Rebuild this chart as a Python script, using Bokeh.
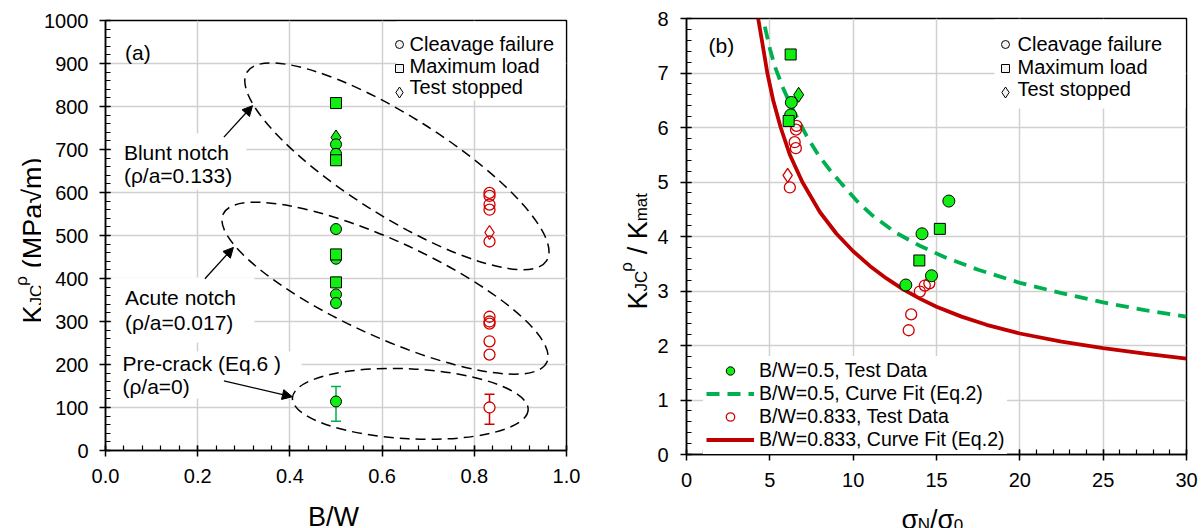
import math
from bokeh.plotting import figure
from bokeh.layouts import row, column
from bokeh.models import (Label, Arrow, NormalHead, SingleIntervalTicker, PrintfTickFormatter,
                          Range1d, Legend, LegendItem)
from bokeh.embed import file_html
from bokeh.resources import INLINE

FONT = "Liberation Sans"

# ------------------------- DATA: panel (a) -------------------------
bw_05 = 0.5
bw_083 = 0.833
a05_cleavage = [712, 690, 515, 446, 363, 343]
a05_maxload = [808, 675, 456, 391]
a05_stopped = [728]
a05_precrack = [114]
a05_precrack_lo = [68]
a05_precrack_hi = [149]
a083_cleavage = [599, 592, 572, 560, 486, 311, 300, 295, 254, 223]
a083_stopped = [507]
a083_precrack = [100]
a083_precrack_lo = [61]
a083_precrack_hi = [131]

# ------------------------- DATA: panel (b) -------------------------
b05_cleav_x = [6.29, 6.25, 15.74, 14.13, 14.70, 13.16]
b05_cleav_y = [6.46, 6.23, 4.65, 4.05, 3.28, 3.11]
b05_max_x = [6.25, 6.13, 15.20, 13.97]
b05_max_y = [7.34, 6.12, 4.14, 3.56]
b05_stop_x = [6.73]
b05_stop_y = [6.60]
b083_cleav_x = [6.60, 6.57, 6.49, 6.56, 6.20, 14.00, 14.30, 14.57, 13.48, 13.33]
b083_cleav_y = [6.03, 5.96, 5.73, 5.62, 4.90, 2.99, 3.10, 3.14, 2.57, 2.28]
b083_stop_x = [6.07]
b083_stop_y = [5.12]
fit05_x = [4.7, 5.0, 5.3, 5.8, 6.3, 7.2, 7.9, 8.6, 9.3, 10.2, 11.1, 12.5, 14.0, 15.5, 17.5, 20.0, 22.5, 25.0, 27.5, 30.0]
fit05_y = [7.85, 7.45, 7.12, 6.72, 6.38, 5.85, 5.50, 5.22, 4.97, 4.66, 4.40, 4.08, 3.83, 3.62, 3.39, 3.15, 2.96, 2.79, 2.65, 2.53]
fit083_x = [4.3, 4.55, 4.85, 5.2, 5.65, 6.2, 6.95, 8.0, 9.0, 10.0, 11.0, 12.0, 13.0, 14.0, 15.0, 16.5, 18.0, 20.0, 22.5, 25.0, 27.5, 30.0]
fit083_y = [8.0, 7.55, 7.0, 6.5, 6.0, 5.5, 5.0, 4.45, 4.05, 3.73, 3.46, 3.23, 3.03, 2.86, 2.71, 2.53, 2.38, 2.22, 2.07, 1.95, 1.85, 1.76]

GREEN = "#11ee11"
GREEN_LINE = "#00b050"
RED = "#d00000"
RED_LINE = "#c00000"
LEG_FILL = "#f2f2f2"

# Arial / Liberation Sans advance widths (em)
WID = {'K': .667, 'J': .5, 'C': .722, 'ρ': .58, ' ': .278, '(': .333, ')': .333, 'M': .833,
       'P': .667, 'a': .556, '√': .549, 'm': .833, '/': .278, 't': .278, 'N': .722,
       'σ': .6, '0': .556, 'B': .667, 'W': .944}


def tw(s, size):
    return sum(WID.get(c, .556) for c in s) * size


def no_align(f):
    if "frame_align" in f.properties():
        f.frame_align = False


def make_fig(fw, fh, bl, br, bt, bb, xr, yr, xint, yint, xfmt, yfmt, ystand):
    p = figure(frame_width=fw, frame_height=fh, min_border_left=bl, min_border_right=br,
               min_border_top=bt, min_border_bottom=bb, x_range=Range1d(*xr), y_range=Range1d(*yr),
               title_location=None, toolbar_location=None, output_backend="svg")
    no_align(p)
    p.outline_line_color = "black"
    p.outline_line_width = 1.5
    p.xaxis.ticker = SingleIntervalTicker(interval=xint, num_minor_ticks=5)
    p.yaxis.ticker = SingleIntervalTicker(interval=yint, num_minor_ticks=5)
    p.xaxis.formatter = PrintfTickFormatter(format=xfmt)
    p.yaxis.formatter = PrintfTickFormatter(format=yfmt)
    for ax in (p.xaxis[0], p.yaxis[0]):
        ax.axis_label = None
        ax.axis_label_standoff = 0
        ax.axis_line_color = "black"
        ax.axis_line_width = 1.5
        ax.major_tick_line_color = "black"
        ax.major_tick_line_width = 1.5
        ax.major_tick_in = 5
        ax.major_tick_out = 6
        ax.minor_tick_line_color = "black"
        ax.minor_tick_line_width = 1.2
        ax.minor_tick_in = 5
        ax.minor_tick_out = 0
        ax.major_label_text_font = FONT
        ax.major_label_text_font_size = "20px"
        ax.major_label_text_color = "black"
        ax.major_label_standoff = 12
    p.yaxis[0].major_label_standoff = ystand
    p.grid.grid_line_color = "#d0d0d0"
    p.grid.grid_line_width = 1.5
    return p


def text_fig(left, top, w, h, bl=0, br=0):
    """A bare canvas whose data coordinates are page pixels (y measured downward)."""
    f = figure(frame_width=w - bl - br, frame_height=h, min_border_left=bl, min_border_right=br,
               min_border_top=0, min_border_bottom=0,
               x_range=Range1d(left + bl, left + w - br), y_range=Range1d(top + h, top),
               x_axis_location=None, y_axis_location=None, title_location=None,
               toolbar_location=None, output_backend="svg")
    no_align(f)
    f.grid.visible = False
    f.outline_line_color = None
    return f


def add_label(p, conv, px, py, text, size, align="left", baseline="middle", angle=0.0):
    x, y = conv(px, py)
    p.add_layout(Label(x=x, y=y, text=text, text_font=FONT, text_font_size=f"{size}px",
                       text_color="black", text_align=align, text_baseline=baseline, angle=angle))


def ident(px, py):
    return px, py


# ------------------------- PANEL (a) -------------------------
A_L, A_T, A_W, A_H = 104, 20, 461, 430


def pa(px, py):
    return (px - A_L) / A_W * 1.0, (A_T + A_H - py) / A_H * 1000.0


p1 = make_fig(A_W, A_H, 63, 15, 20, 44, (0, 1), (0, 1000), 0.2, 100, "%.1f", "%d", 11)

for (x0, y0, x1, y1) in [(395, 21, 564, 100), (110, 133, 245, 189), (110, 277, 253, 342), (110, 351, 300, 398)]:
    l, t = pa(x0, y0)
    r, b = pa(x1, y1)
    p1.quad(left=[l], right=[r], top=[t], bottom=[b], fill_color="white", line_color=None)

for (cx, cy, w, h, ang) in [(395.4, 165.8, 354, 100, -32.2), (383.5, 287.7, 356, 96, -24.6),
                            (408.8, 403.4, 236, 70, -2.9)]:
    ex, ey = pa(cx, cy)
    p1.ellipse(x=[ex], y=[ey], width=[w], height=[h], angle=[math.radians(ang)],
               width_units="screen", height_units="screen", fill_alpha=0,
               line_color="black", line_width=1.5, line_dash="10 6")

p1.segment(x0=[bw_05], y0=a05_precrack_lo, x1=[bw_05], y1=a05_precrack_hi, line_color=GREEN_LINE, line_width=1.5)
p1.scatter(x=[bw_05, bw_05], y=a05_precrack_lo + a05_precrack_hi, marker="dash", size=10,
           line_color=GREEN_LINE, line_width=1.5)
p1.segment(x0=[bw_083], y0=a083_precrack_lo, x1=[bw_083], y1=a083_precrack_hi, line_color=RED, line_width=1.5)
p1.scatter(x=[bw_083, bw_083], y=a083_precrack_lo + a083_precrack_hi, marker="dash", size=10,
           line_color=RED, line_width=1.5)

p1.scatter(x=[bw_05] * len(a05_stopped), y=a05_stopped, marker="diamond", size=15,
           fill_color=GREEN, line_color="black", line_width=1)
p1.scatter(x=[bw_05] * len(a05_cleavage + a05_precrack), y=a05_cleavage + a05_precrack, marker="circle",
           size=11, fill_color=GREEN, line_color="black", line_width=1)
p1.scatter(x=[bw_05] * len(a05_maxload), y=a05_maxload, marker="square", size=11,
           fill_color=GREEN, line_color="black", line_width=1)
p1.scatter(x=[bw_083] * len(a083_stopped), y=a083_stopped, marker="diamond", size=14,
           fill_alpha=0, line_color=RED, line_width=1.3)
p1.scatter(x=[bw_083] * len(a083_cleavage), y=a083_cleavage,
           marker="circle", size=11, fill_alpha=0, line_color=RED, line_width=1.3)
p1.scatter(x=[bw_083] * len(a083_precrack), y=a083_precrack, marker="circle", size=11,
           fill_color="white", line_color=RED, line_width=1.3)

for (x0, y0, x1, y1) in [(222.4, 136.6, 251.0, 105.2), (203.4, 278.2, 231.9, 246.9), (222.4, 380.4, 290.9, 396.3)]:
    sx, sy = pa(x0, y0)
    ex, ey = pa(x1, y1)
    p1.add_layout(Arrow(x_start=sx, y_start=sy, x_end=ex, y_end=ey, line_color="black", line_width=1.3,
                        end=NormalHead(size=10, fill_color="black", line_color="black", line_width=1)))

add_label(p1, pa, 123.6, 52, "(a)", 21)
add_label(p1, pa, 122.4, 151.8, "Blunt notch", 21)
add_label(p1, pa, 122.4, 175.4, "(ρ/a=0.133)", 21)
add_label(p1, pa, 123.6, 296.8, "Acute notch", 21)
add_label(p1, pa, 123.6, 322.1, "(ρ/a=0.017)", 21)
add_label(p1, pa, 120.9, 362.6, "Pre-crack (Eq.6 )", 21)
add_label(p1, pa, 120.9, 386.2, "(ρ/a=0)", 21)


def shape_legend(p, conv, mx, tx, ys, tys):
    for m, y, ty, txt, s in zip(["circle", "square", "diamond"], ys, tys,
                                ["Cleavage failure", "Maximum load", "Test stopped"], [8, 8, 11]):
        x, yy = conv(mx, y)
        p.scatter(x=[x], y=[yy], marker=m, size=s, fill_color=LEG_FILL, line_color="black", line_width=1)
        add_label(p, conv, tx, ty, txt, 20)


shape_legend(p1, pa, 398, 408, [44, 68, 92], [43.3, 65, 86.7])

# ------------------------- PANEL (b) -------------------------
B_L, B_T, B_W, B_H = 685, 18, 500, 436


def pb(px, py):
    return (px - B_L) / B_W * 30.0, (B_T + B_H - py) / B_H * 8.0


p2 = make_fig(B_W, B_H, 33, 18, 18, 44, (0, 30), (0, 8), 5, 1, "%d", "%d", 12)

l, t = pb(993, 19)
r, b = pb(1184, 108)
p2.quad(left=[l], right=[r], top=[t], bottom=[b], fill_color="white", line_color=None)

r_fit05 = p2.line(fit05_x, fit05_y, line_color=GREEN_LINE, line_width=3.8, line_dash="13 8")
r_fit083 = p2.line(fit083_x, fit083_y, line_color=RED_LINE, line_width=3.8)

p2.scatter(x=b083_stop_x, y=b083_stop_y, marker="diamond", size=14, fill_alpha=0,
           line_color=RED, line_width=1.3)
r_r = p2.scatter(x=b083_cleav_x, y=b083_cleav_y, marker="circle", size=11, fill_alpha=0,
                 line_color=RED, line_width=1.3)
r_g = p2.scatter(x=b05_cleav_x, y=b05_cleav_y, marker="circle", size=12, fill_color=GREEN,
                 line_color="black", line_width=1)
p2.scatter(x=b05_max_x, y=b05_max_y, marker="square", size=11, fill_color=GREEN, line_color="black", line_width=1)
p2.scatter(x=b05_stop_x, y=b05_stop_y, marker="diamond", size=15, fill_color=GREEN, line_color="black", line_width=1)

add_label(p2, pb, 707, 45.4, "(b)", 21)
shape_legend(p2, pb, 1004, 1016, [44, 68, 92], [43.7, 66.3, 88.2])

leg = Legend(items=[LegendItem(label="B/W=0.5, Test Data", renderers=[r_g]),
                    LegendItem(label="B/W=0.5, Curve Fit (Eq.2)", renderers=[r_fit05]),
                    LegendItem(label="B/W=0.833, Test Data", renderers=[r_r]),
                    LegendItem(label="B/W=0.833, Curve Fit (Eq.2)", renderers=[r_fit083])],
             location=(17, 0), glyph_width=48, glyph_height=21, label_height=21, label_standoff=5,
             spacing=0, padding=3, margin=0, label_text_font=FONT, label_text_font_size="19.5px",
             label_text_color="black", border_line_alpha=0, background_fill_color="white",
             background_fill_alpha=1)
p2.add_layout(leg)

# ------------------------- AXIS TITLE CANVASES (page-pixel coordinates) -------------------------
MAIN, SUB = 27, 17
ANG = math.pi / 2
SP = tw(" ", MAIN)

# y title (a): page x 0..41
ya = text_fig(0, 0, 41, 528)
xb_, y0 = 32, 323
add_label(ya, ident, xb_, y0, "K", MAIN, baseline="alphabetic", angle=ANG)
yy = y0 - tw("K", MAIN)
add_label(ya, ident, xb_ + 4, yy, "JC", SUB, baseline="alphabetic", angle=ANG)
yy -= tw("JC", SUB) - 1
add_label(ya, ident, xb_ - 11, yy, "ρ", SUB, baseline="alphabetic", angle=ANG)
yy -= tw("ρ", SUB) + SP
add_label(ya, ident, xb_, yy, "(MPa√m)", MAIN, baseline="alphabetic", angle=ANG)

# x title (a): page x 41..580, y 494..528 (frame matched to panel (a) frame)
xa = text_fig(41, 494, 539, 34, bl=63, br=15)
add_label(xa, ident, 333 - tw("B/W", MAIN) / 2, 516, "B/W", MAIN, baseline="alphabetic")

# y title (b): page x 580..652
yb = text_fig(580, 0, 72, 528)
xb_, y0 = 636, 309
add_label(yb, ident, xb_, y0, "K", MAIN, baseline="alphabetic", angle=ANG)
yy = y0 - tw("K", MAIN)
add_label(yb, ident, xb_ + 4, yy, "JC", SUB, baseline="alphabetic", angle=ANG)
yy -= tw("JC", SUB) - 1
add_label(yb, ident, xb_ - 11, yy, "ρ", SUB, baseline="alphabetic", angle=ANG)
yy -= tw("ρ", SUB) + SP
add_label(yb, ident, xb_, yy, "/ K", MAIN, baseline="alphabetic", angle=ANG)
yy -= tw("/ K", MAIN)
add_label(yb, ident, xb_ + 4, yy, "mat", SUB, baseline="alphabetic", angle=ANG)

# x title (b): page x 652..1203, y 498..528 (frame matched to panel (b) frame)
xbf = text_fig(652, 498, 551, 30, bl=33, br=18)
xx = 900
for txt, size, off in [("σ", MAIN, 0), ("N", SUB, 5), ("/", MAIN, 0), ("σ", MAIN, 0), ("0", SUB, 5)]:
    add_label(xbf, ident, xx, 519 + off, txt, size, baseline="alphabetic")
    xx += tw(txt, size)

layout = row(ya, column(p1, xa), yb, column(p2, xbf))
open("out.html", "w").write(file_html(layout, INLINE, "chart"))
